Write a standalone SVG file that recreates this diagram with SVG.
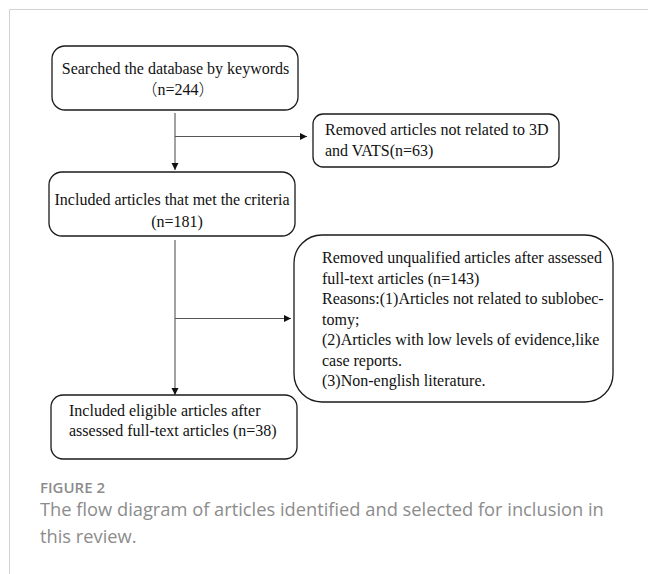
<svg xmlns="http://www.w3.org/2000/svg" width="648" height="574" viewBox="0 0 648 574">
<defs>
<style>
.frame{fill:none;stroke:#d2d2d2;stroke-width:1}
.box{fill:#fff;stroke:#1a1a1a;stroke-width:1.3}
.t{font-family:"Liberation Serif","Times New Roman",serif;font-size:16px;fill:#111}
.cjk{font-family:"Noto Sans CJK SC","Liberation Serif",serif;font-weight:300}
.conn{fill:none;stroke:#555;stroke-width:1.1}
.fig{font-family:"Open Sans","Noto Sans",sans-serif;font-size:15px;font-weight:600;fill:#8c8c8c}
.cap{font-family:"Open Sans","Noto Sans",sans-serif;font-size:18.3px;fill:#8c8c8c}
</style>
<marker id="arr" markerWidth="8" markerHeight="8" refX="7" refY="3.5" orient="auto" markerUnits="userSpaceOnUse">
<path d="M0,0 L7,3.5 L0,7 z" fill="#111"/>
</marker>
</defs>
<rect width="648" height="574" fill="#fff"/>
<path class="frame" d="M9.5,574 V9.5 H648"/>

<g id="connectors">
<line class="conn" x1="175" y1="113" x2="175" y2="170" marker-end="url(#arr)"/>
<line class="conn" x1="175" y1="136.5" x2="307" y2="136.5" marker-end="url(#arr)"/>
<line class="conn" x1="175" y1="240" x2="175" y2="395" marker-end="url(#arr)"/>
<line class="conn" x1="175" y1="318.5" x2="291" y2="318.5" marker-end="url(#arr)"/>
</g>

<g id="node-search">
<rect class="box" x="52" y="46" width="246" height="64" rx="13"/>
<text class="t" x="175.5" y="74" text-anchor="middle">Searched the database by keywords</text>
<text class="t" x="178" y="95" text-anchor="middle"><tspan class="cjk">（</tspan>n=244<tspan class="cjk">）</tspan></text>
</g>

<g id="node-removed1">
<rect class="box" x="313" y="114" width="246" height="53" rx="10"/>
<text class="t" x="325" y="135">Removed articles not related to 3D</text>
<text class="t" x="325" y="155.5">and VATS(n=63)</text>
</g>

<g id="node-included">
<rect class="box" x="49" y="172" width="246" height="64" rx="13"/>
<text class="t" x="172" y="205" text-anchor="middle">Included articles that met the criteria</text>
<text class="t" x="177" y="227" text-anchor="middle">(n=181)</text>
</g>

<g id="node-removed2">
<rect class="box" x="294" y="235" width="319" height="167" rx="28"/>
<text class="t" x="322" y="263">Removed unqualified articles after assessed</text>
<text class="t" x="322" y="283.5">full-text articles (n=143)</text>
<text class="t" x="322" y="304">Reasons:(1)Articles not related to sublobec-</text>
<text class="t" x="322" y="324.5">tomy;</text>
<text class="t" x="322" y="345">(2)Articles with low levels of evidence,like</text>
<text class="t" x="322" y="365.5">case reports.</text>
<text class="t" x="322" y="386">(3)Non-english literature.</text>
</g>

<g id="node-eligible">
<rect class="box" x="51" y="395" width="246" height="64" rx="12"/>
<text class="t" x="69" y="416">Included eligible articles after</text>
<text class="t" x="69" y="436">assessed full-text articles (n=38)</text>
</g>

<text class="fig" x="40" y="493">FIGURE 2</text>
<text class="cap" x="40" y="516">The flow diagram of articles identified and selected for inclusion in</text>
<text class="cap" x="40" y="543">this review.</text>
</svg>
